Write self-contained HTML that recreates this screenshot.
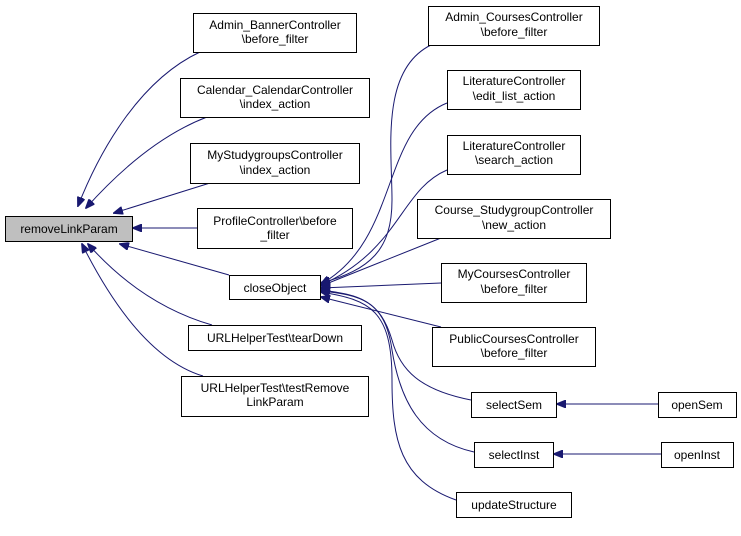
<!DOCTYPE html>
<html><head><meta charset="utf-8"><style>
body{margin:0;background:#fff}
svg text{font-family:"Liberation Sans",sans-serif;font-size:12px;fill:#000}
</style></head><body>
<svg width="741" height="531" viewBox="0 0 741 531" xmlns="http://www.w3.org/2000/svg">
<defs><marker id="a" markerWidth="10" markerHeight="8" refX="9" refY="4" orient="auto" markerUnits="userSpaceOnUse"><path d="M0,0 L10,4 L0,8 Z" fill="#191970" stroke="#191970"/></marker></defs>
<g fill="none" stroke="#191970" stroke-width="1" marker-end="url(#a)">
<path d="M200,52 C140,80 100,150 78,206"/>
<path d="M207,117 C160,135 120,170 86,208"/>
<path d="M210,183 L114,213"/>
<path d="M197,228 L133,228"/>
<path d="M229,275 L120,244"/>
<path d="M212,325 C160,310 120,280 88,244"/>
<path d="M203,376 C150,360 110,300 82,244"/>
<path d="M431,45 C380,70 392,150 392,200 C392,250 370,270 321,283"/>
<path d="M447,103 C380,130 400,240 321,284"/>
<path d="M447,170 C400,190 400,250 321,285"/>
<path d="M441,238 L321,286"/>
<path d="M441,283 L321,288"/>
<path d="M441,327 L321,297"/>
<path d="M471,400 C420,390 400,370 392,340 C380,300 360,295 321,290"/>
<path d="M474,452 C420,440 400,400 392,350 C385,300 360,295 321,291"/>
<path d="M456,500 C400,480 392,440 392,380 C392,310 370,300 321,292"/>
<path d="M658,404 L557,404"/>
<path d="M661,454 L554,454"/>
</g>
<g stroke="#000" stroke-width="1" fill="#fff">
<rect x="5.5" y="216.5" width="127" height="25" fill="#bfbfbf"/>
<rect x="193.5" y="13.5" width="163" height="39"/>
<rect x="180.5" y="78.5" width="189" height="39"/>
<rect x="190.5" y="143.5" width="169" height="40"/>
<rect x="197.5" y="208.5" width="155" height="40"/>
<rect x="229.5" y="275.5" width="91" height="24"/>
<rect x="188.5" y="325.5" width="173" height="25"/>
<rect x="181.5" y="376.5" width="187" height="40"/>
<rect x="428.5" y="6.5" width="171" height="39"/>
<rect x="447.5" y="70.5" width="133" height="39"/>
<rect x="447.5" y="135.5" width="133" height="39"/>
<rect x="417.5" y="199.5" width="193" height="39"/>
<rect x="441.5" y="263.5" width="145" height="39"/>
<rect x="432.5" y="327.5" width="163" height="39"/>
<rect x="471.5" y="392.5" width="85" height="25"/>
<rect x="658.5" y="392.5" width="78" height="25"/>
<rect x="474.5" y="442.5" width="79" height="25"/>
<rect x="661.5" y="442.5" width="72" height="25"/>
<rect x="456.5" y="492.5" width="115" height="25"/>
</g>
<g text-anchor="middle">
<text x="69" y="233">removeLinkParam</text>
<text x="275" y="29">Admin_BannerController</text><text x="275" y="43">\before_filter</text>
<text x="275" y="94">Calendar_CalendarController</text><text x="275" y="108">\index_action</text>
<text x="275" y="159">MyStudygroupsController</text><text x="275" y="174">\index_action</text>
<text x="275" y="225">ProfileController\before</text><text x="275" y="239">_filter</text>
<text x="275" y="292">closeObject</text>
<text x="275" y="342">URLHelperTest\tearDown</text>
<text x="275" y="392">URLHelperTest\testRemove</text><text x="275" y="406">LinkParam</text>
<text x="514" y="21">Admin_CoursesController</text><text x="514" y="36">\before_filter</text>
<text x="514" y="85">LiteratureController</text><text x="514" y="100">\edit_list_action</text>
<text x="514" y="150">LiteratureController</text><text x="514" y="164">\search_action</text>
<text x="514" y="214">Course_StudygroupController</text><text x="514" y="229">\new_action</text>
<text x="514" y="278">MyCoursesController</text><text x="514" y="293">\before_filter</text>
<text x="514" y="343">PublicCoursesController</text><text x="514" y="357">\before_filter</text>
<text x="514" y="409">selectSem</text>
<text x="697" y="409">openSem</text>
<text x="514" y="459">selectInst</text>
<text x="697" y="459">openInst</text>
<text x="514" y="509">updateStructure</text>
</g>
</svg>
</body></html>
